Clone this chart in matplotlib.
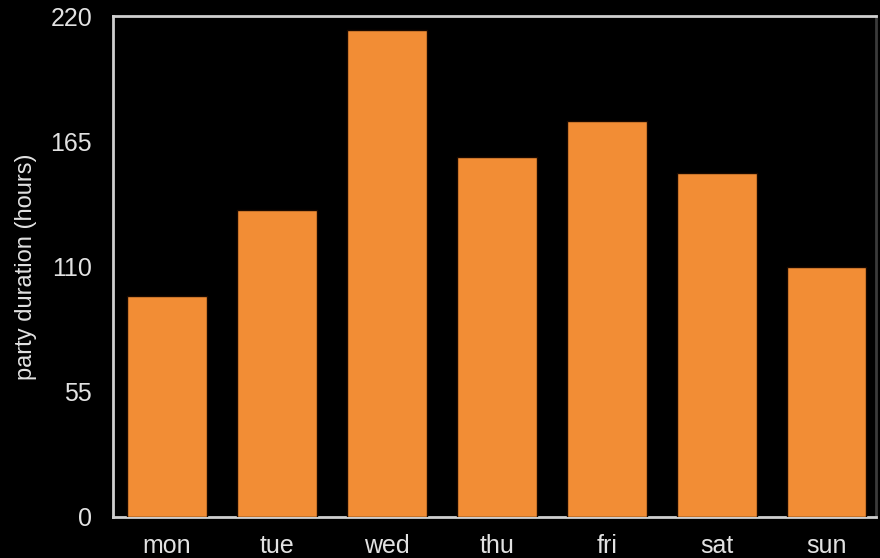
import matplotlib
matplotlib.use("Agg")
import matplotlib.pyplot as plt

days = ["mon", "tue", "wed", "thu", "fri", "sat", "sun"]
hours = [97, 135, 214, 158, 174, 151, 110]
yticks = [0, 55, 110, 165, 220]

plt.rcParams["font.family"] = ["Liberation Sans", "DejaVu Sans"]

fig = plt.figure(figsize=(8.8, 5.58), dpi=100, facecolor="black")
ax = fig.add_axes([0.1284, 0.0735, 0.867, 0.8975], facecolor="black")

text_color = "#e2e2e2"
spine_color = "#cfcfcf"

ax.bar(range(len(days)), hours, width=0.727, color="#f28d35",
       edgecolor="#1a0a00", linewidth=1.0, zorder=3)

ax.set_xlim(-0.49, 6.45)
ax.set_ylim(0, 220)
ax.set_yticks(yticks)
ax.set_xticks(range(len(days)))
ax.set_xticklabels(days)

for side in ["left", "top", "right", "bottom"]:
    ax.spines[side].set_color(spine_color)
    ax.spines[side].set_linewidth(2.0)
ax.spines["right"].set_color("#3a3a3a")

ax.tick_params(axis="both", length=0, colors=text_color, labelsize=18)
ax.tick_params(axis="y", pad=15)
ax.tick_params(axis="x", pad=12)

ax.set_ylabel("party duration (hours)", color=text_color, fontsize=17, labelpad=10)

fig.savefig("out.png", dpi=100, facecolor="black")
